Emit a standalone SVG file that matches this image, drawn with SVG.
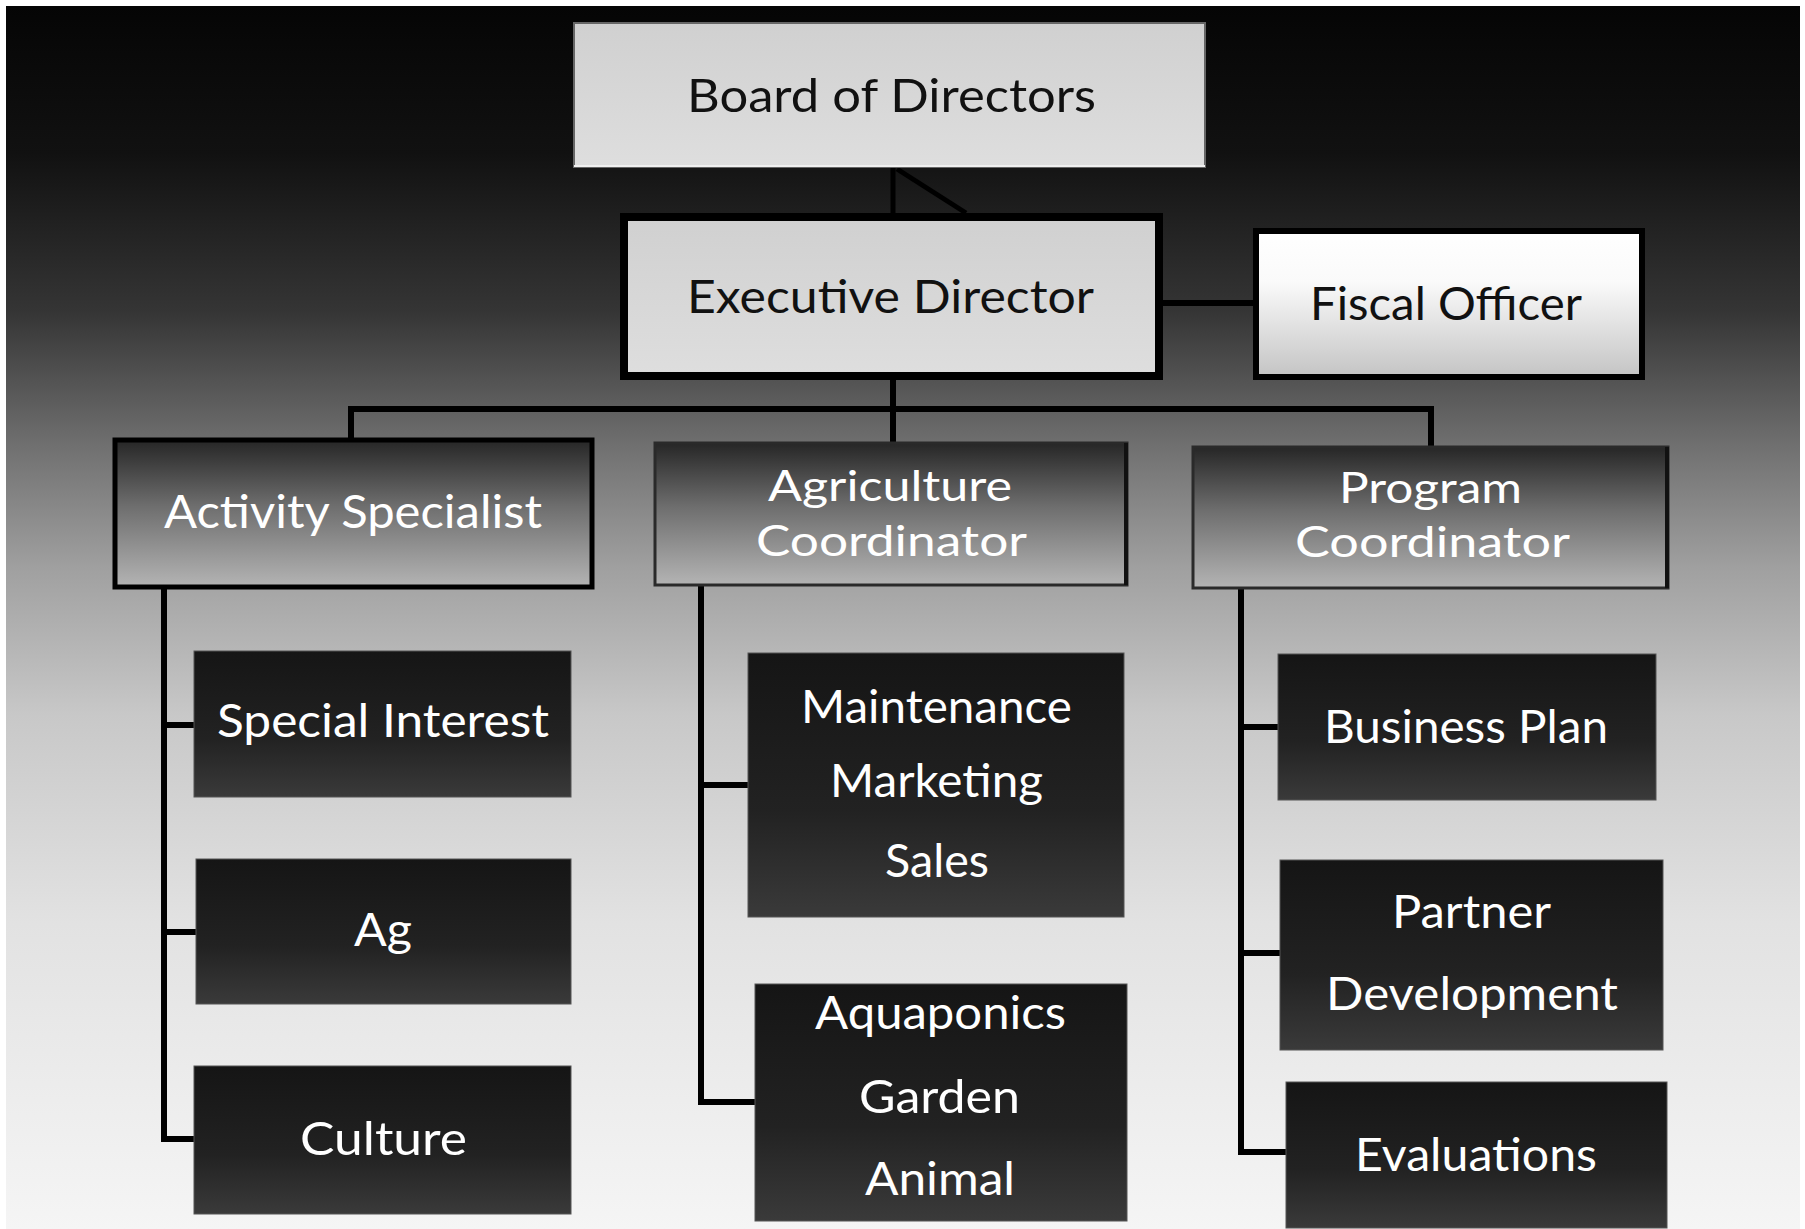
<svg xmlns="http://www.w3.org/2000/svg" width="1805" height="1229" viewBox="0 0 1805 1229">
<defs>
<linearGradient id="bg" x1="0" y1="0" x2="0" y2="1">
<stop offset="0" stop-color="#050505"/>
<stop offset="0.12" stop-color="#111"/>
<stop offset="0.25" stop-color="#353535"/>
<stop offset="0.36" stop-color="#707070"/>
<stop offset="0.46" stop-color="#a0a0a0"/>
<stop offset="0.58" stop-color="#c8c8c8"/>
<stop offset="0.75" stop-color="#e2e2e2"/>
<stop offset="1" stop-color="#f5f5f5"/>
</linearGradient>
<linearGradient id="light" x1="0" y1="0" x2="0" y2="1">
<stop offset="0" stop-color="#d0d0d0"/>
<stop offset="1" stop-color="#dedede"/>
</linearGradient>
<linearGradient id="fiscal" x1="0" y1="0" x2="0" y2="1">
<stop offset="0" stop-color="#ffffff"/>
<stop offset="0.35" stop-color="#fafafa"/>
<stop offset="1" stop-color="#c4c4c4"/>
</linearGradient>
<linearGradient id="mid" x1="0" y1="0" x2="0" y2="1">
<stop offset="0" stop-color="#262626"/>
<stop offset="0.45" stop-color="#6e6e6e"/>
<stop offset="1" stop-color="#b4b4b4"/>
</linearGradient>
<linearGradient id="dark" x1="0" y1="0" x2="0" y2="1">
<stop offset="0" stop-color="#151515"/>
<stop offset="0.6" stop-color="#222"/>
<stop offset="1" stop-color="#3a3a3a"/>
</linearGradient>
</defs>
<style>
.t{font-family:"Lato","Open Sans","Liberation Sans",sans-serif;font-size:46px;text-anchor:start}
.t2{font-size:43px}
.bk{fill:#111}
.wh{fill:#fff}
.ln{stroke:#000;stroke-width:6;fill:none;stroke-linecap:square}
.ln4{stroke:#000;stroke-width:5;fill:none}
.hd1{fill:url(#mid);stroke:#000;stroke-width:5}
.hd2{fill:url(#mid);stroke:#2a2a2a;stroke-width:3}
.ch{fill:url(#dark);stroke:#555;stroke-width:1}
</style>
<rect x="0" y="0" width="1805" height="1229" fill="#ffffff"/>
<rect x="6" y="6" width="1794" height="1223" fill="url(#bg)"/>

<g id="connectors">
<line class="ln4" x1="893" y1="167" x2="893" y2="213"/>
<line class="ln4" x1="897" y1="169" x2="966" y2="213"/>
<line class="ln" x1="1163" y1="303" x2="1253" y2="303"/>
<line class="ln" x1="893" y1="380" x2="893" y2="443"/>
<polyline class="ln" points="351,438 351,409 1431,409 1431,447"/>
<polyline class="ln" points="164,587 164,1139 193,1139"/>
<line class="ln" x1="164" y1="725" x2="194" y2="725"/>
<line class="ln" x1="164" y1="932" x2="196" y2="932"/>
<polyline class="ln" points="701,585 701,1102 755,1102"/>
<line class="ln" x1="701" y1="785" x2="748" y2="785"/>
<polyline class="ln" points="1241,589 1241,1152 1286,1152"/>
<line class="ln" x1="1241" y1="727" x2="1278" y2="727"/>
<line class="ln" x1="1241" y1="953" x2="1280" y2="953"/>
</g>

<g id="board">
<rect x="574" y="23" width="631" height="144" fill="url(#light)" stroke="#666" stroke-width="2"/>
<line x1="574" y1="166" x2="1205" y2="166" stroke="#f0f0f0" stroke-width="2"/>
<text class="t bk" x="687" y="112" textLength="409" lengthAdjust="spacingAndGlyphs">Board of Directors</text>
</g>

<g id="executive">
<rect x="624" y="217" width="535" height="159" fill="url(#light)" stroke="#000" stroke-width="8"/>
<text class="t bk" x="687" y="313" textLength="407" lengthAdjust="spacingAndGlyphs">Executive Director</text>
</g>

<g id="fiscal">
<rect x="1256" y="231" width="386" height="146" fill="url(#fiscal)" stroke="#000" stroke-width="6"/>
<text class="t bk" x="1310" y="320" textLength="272" lengthAdjust="spacingAndGlyphs">Fiscal Officer</text>
</g>

<g id="activity">
<rect x="115" y="440" width="477" height="147" class="hd1"/>
<text class="t wh" x="164" y="528" textLength="378" lengthAdjust="spacingAndGlyphs">Activity Specialist</text>
</g>

<g id="agriculture">
<rect x="655" y="443" width="472" height="142" class="hd2"/>
<line x1="1126" y1="443" x2="1126" y2="585" stroke="#111" stroke-width="4"/>
<text class="t t2 wh" x="768" y="501" textLength="244" lengthAdjust="spacingAndGlyphs">Agriculture</text>
<text class="t t2 wh" x="756" y="556" textLength="271" lengthAdjust="spacingAndGlyphs">Coordinator</text>
</g>

<g id="program">
<rect x="1193" y="447" width="475" height="141" class="hd2"/>
<line x1="1667" y1="447" x2="1667" y2="588" stroke="#111" stroke-width="4"/>
<text class="t t2 wh" x="1339" y="503" textLength="183" lengthAdjust="spacingAndGlyphs">Program</text>
<text class="t t2 wh" x="1295" y="557" textLength="275" lengthAdjust="spacingAndGlyphs">Coordinator</text>
</g>

<g id="special-interest">
<rect x="194" y="651" width="377" height="146" class="ch"/>
<text class="t wh" x="217" y="737" textLength="332" lengthAdjust="spacingAndGlyphs">Special Interest</text>
</g>

<g id="ag">
<rect x="196" y="859" width="375" height="145" class="ch"/>
<text class="t wh" x="354" y="946" textLength="58" lengthAdjust="spacingAndGlyphs">Ag</text>
</g>

<g id="culture">
<rect x="194" y="1066" width="377" height="148" class="ch"/>
<text class="t wh" x="300" y="1155" textLength="167" lengthAdjust="spacingAndGlyphs">Culture</text>
</g>

<g id="maintenance">
<rect x="748" y="653" width="376" height="264" class="ch"/>
<text class="t wh" x="801" y="723" textLength="271" lengthAdjust="spacingAndGlyphs">Maintenance</text>
<text class="t wh" x="830" y="797" textLength="213" lengthAdjust="spacingAndGlyphs">Marketing</text>
<text class="t wh" x="885" y="877" textLength="104" lengthAdjust="spacingAndGlyphs">Sales</text>
</g>

<g id="aquaponics">
<rect x="755" y="984" width="372" height="237" class="ch"/>
<text class="t wh" x="815" y="1029" textLength="251" lengthAdjust="spacingAndGlyphs">Aquaponics</text>
<text class="t wh" x="859" y="1113" textLength="161" lengthAdjust="spacingAndGlyphs">Garden</text>
<text class="t wh" x="865" y="1195" textLength="150" lengthAdjust="spacingAndGlyphs">Animal</text>
</g>

<g id="business-plan">
<rect x="1278" y="654" width="378" height="146" class="ch"/>
<text class="t wh" x="1324" y="743" textLength="284" lengthAdjust="spacingAndGlyphs">Business Plan</text>
</g>

<g id="partner-development">
<rect x="1280" y="860" width="383" height="190" class="ch"/>
<text class="t wh" x="1392" y="928" textLength="159" lengthAdjust="spacingAndGlyphs">Partner</text>
<text class="t wh" x="1326" y="1010" textLength="292" lengthAdjust="spacingAndGlyphs">Development</text>
</g>

<g id="evaluations">
<rect x="1286" y="1082" width="381" height="146" class="ch"/>
<text class="t wh" x="1355" y="1171" textLength="242" lengthAdjust="spacingAndGlyphs">Evaluations</text>
</g>
</svg>
